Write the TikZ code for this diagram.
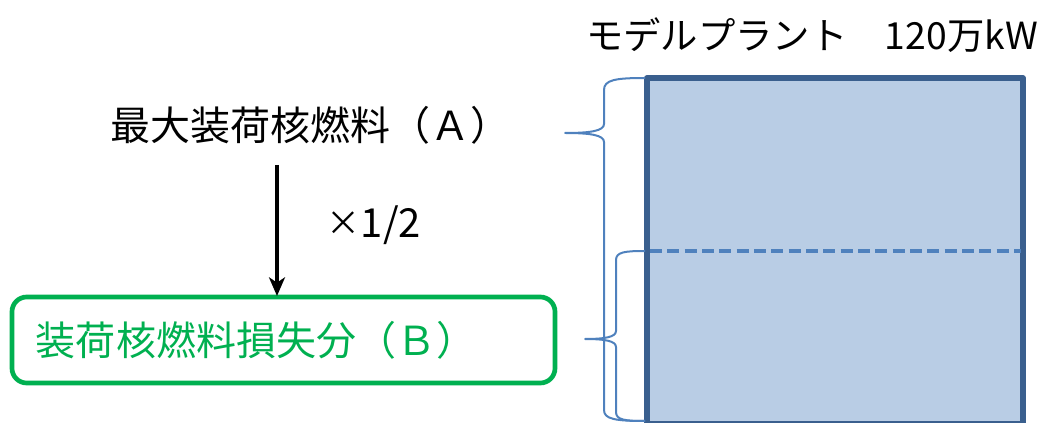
\documentclass[tikz,border=0pt]{standalone}
\usepackage{fontspec}
\setmainfont{Noto Sans CJK JP}
\usetikzlibrary{arrows.meta}
\definecolor{plantfill}{HTML}{B9CDE5}
\definecolor{plantedge}{HTML}{3A5F8E}
\definecolor{bracecol}{HTML}{4F81BD}
\definecolor{boxgreen}{HTML}{00B050}
\tikzset{
  bigtext/.style={font=\fontsize{30}{36}\selectfont, inner sep=0pt, anchor=center},
  brace/.style={draw=bracecol, line width=1.5pt, line join=round},
  greenbox/.style={draw=boxgreen, line width=3.5pt, rounded corners=11pt, text=boxgreen,
     minimum width=543*0.75pt, minimum height=86*0.75pt, inner sep=0pt,
     font=\fontsize{30}{36}\selectfont},
}
\begin{document}
\begin{tikzpicture}[x=0.75pt,y=-0.75pt]
\useasboundingbox (0,0) rectangle (1045,423);
% plant rectangle
\fill[plantfill] (647,78) rectangle (1023,424);
\draw[plantedge, line width=4pt, line join=round] (647,426) -- (647,78) -- (1023,78) -- (1023,426);
\draw[plantedge, line width=1.5pt] (647,422) -- (1023,422);
\draw[bracecol, line width=2.3pt, dash pattern=on 9pt off 4pt] (650,251) -- (1021,251);
% braces
\draw[brace] (645,78) .. controls (615,78) and (604,80) .. (604,90) -- (604,124)
   .. controls (604,131) and (590,133) .. (565,133)
   .. controls (590,133) and (604,135) .. (604,142) -- (604,410)
   .. controls (604,419) and (615,421) .. (645,421);
\draw[brace] (645,251) .. controls (625,251) and (616,252) .. (616,260) -- (616,331)
   .. controls (616,337) and (605,339) .. (585,339)
   .. controls (605,339) and (616,341) .. (616,347) -- (616,412)
   .. controls (616,420) and (625,421) .. (645,421);
% texts
\node[font=\fontsize{28}{34}\selectfont, inner sep=0pt] (title) at (812,35) {モデルプラント　120万kW};
\node[bigtext] (A) at (310,125) {最大装荷核燃料（Ａ）};
\node[greenbox] (B) at (283.5,340) {};
\node[bigtext, text=boxgreen] (Btext) at (256,340) {装荷核燃料損失分（Ｂ）};
\node[bigtext] (half) at (374,225) {\raisebox{1pt}{\scalebox{0.85}{×}}1/2};
\coordinate (arrtop) at (277,165);
\coordinate (arrbot) at (277,296);
\draw[line width=2.4pt, -{Stealth[length=14pt,width=12pt,inset=4pt]}] (arrtop) -- (arrbot);
\end{tikzpicture}
\end{document}
